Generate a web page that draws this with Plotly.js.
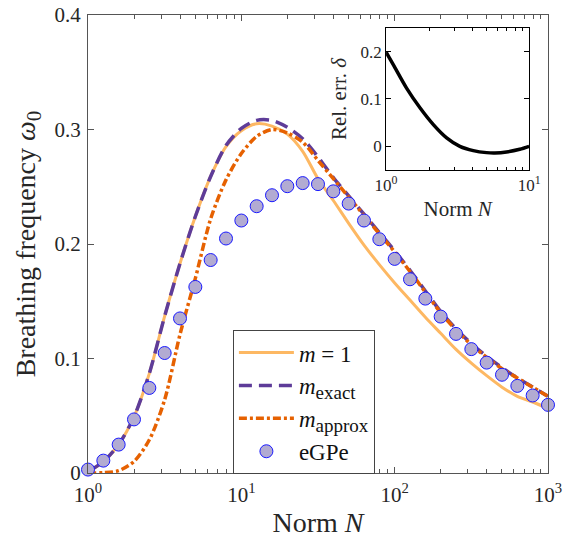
<!DOCTYPE html>
<html>
<head>
<meta charset="utf-8">
<script src="https://cdn.plot.ly/plotly-3.0.1.min.js"></script>
<style>html,body{margin:0;padding:0;background:#fff;}#chart{width:572px;height:541px;}</style>
</head>
<body>
<div id="chart"></div>
<script>
// Norm N sampling (log-spaced, as plotted)
const normN = [1, 1.259, 1.585, 1.995, 2.512, 3.162, 3.981, 5.012, 6.310, 7.943,
  10, 12.59, 15.85, 19.95, 25.12, 31.62, 39.81, 50.12, 63.10, 79.43,
  100, 125.9, 158.5, 199.5, 251.2, 316.2, 398.1, 501.2, 631.0, 794.3, 1000];

const omegaM1 = [0.001, 0.010, 0.025, 0.049, 0.087, 0.137, 0.183, 0.224, 0.259, 0.285,
  0.299, 0.305, 0.303, 0.296, 0.281, 0.257, 0.238, 0.218, 0.199, 0.182,
  0.166, 0.151, 0.136, 0.122, 0.108, 0.096, 0.085, 0.075, 0.067, 0.062, 0.0565];

const omegaExact = [0.001, 0.010, 0.025, 0.049, 0.087, 0.137, 0.183, 0.224, 0.259, 0.286,
  0.301, 0.308, 0.308, 0.302, 0.292, 0.276, 0.258, 0.242, 0.226, 0.210,
  0.194, 0.177, 0.159, 0.141, 0.126, 0.113, 0.102, 0.092, 0.083, 0.075, 0.067];

const omegaApprox = [0.0, 0.0003, 0.002, 0.010, 0.029, 0.064, 0.121, 0.170, 0.222, 0.256,
  0.279, 0.294, 0.300, 0.297, 0.289, 0.273, 0.257, 0.241, 0.225, 0.209,
  0.193, 0.176, 0.158, 0.140, 0.125, 0.112, 0.101, 0.091, 0.083, 0.075, 0.067];

const omegaEGPe = [0.003, 0.0108, 0.0248, 0.0468, 0.0743, 0.1048, 0.1350, 0.1625, 0.1860, 0.2048,
  0.2205, 0.2330, 0.2426, 0.2505, 0.2532, 0.2523, 0.2460, 0.2353, 0.2205, 0.2042,
  0.1870, 0.1692, 0.1523, 0.1366, 0.1215, 0.1082, 0.0964, 0.0858, 0.0761, 0.0677, 0.0595];

// Inset: relative error
const insetN = [1, 1.125, 1.39, 1.73, 2.14, 2.65, 3.28, 4.07, 5.04, 5.76, 6.95, 8.6, 10];
const relErr = [0.199, 0.172, 0.123, 0.081, 0.046, 0.018, 0.0, -0.009, -0.0133, -0.014, -0.012, -0.0063, 0.0];

const xTickVals = [1, 10, 100, 1000];
const xTickText = ['10<sup>0</sup>', '10<sup>1</sup>', '10<sup>2</sup>', '10<sup>3</sup>'];
const yTickVals = [0, 0.1, 0.2, 0.3, 0.4];
const yTickText = ['0', '0.1', '0.2', '0.3', '0.4'];
const insetXTickVals = [1, 10];
const insetXTickText = ['10<sup>0</sup>', '10<sup>1</sup>'];
const insetYTickVals = [0, 0.1, 0.2];
const insetYTickText = ['0', '0.1', '0.2'];

const FONT = 'Liberation Serif, DejaVu Serif, serif';
const AX = '#262626';
const FRAME = '#555555';

function minorLog(decStart, decEnd) {
  const v = [];
  for (let d = decStart; d < decEnd; d++) for (let k = 2; k <= 9; k++) v.push(k * Math.pow(10, d));
  return v;
}

const traces = [
  {x: normN, y: omegaM1, type: 'scatter', mode: 'lines', name: '<i>m</i> = 1',
   line: {color: '#fdb863', width: 3, shape: 'spline', smoothing: 0.8}, xaxis: 'x', yaxis: 'y'},
  {x: normN, y: omegaExact, type: 'scatter', mode: 'lines', name: '<i>m</i><sub><span style="font-size:19px">exact</span></sub>',
   line: {color: '#5e3c99', width: 3.5, dash: '13px,7px', shape: 'spline', smoothing: 0.8}, xaxis: 'x', yaxis: 'y'},
  {x: normN, y: omegaApprox, type: 'scatter', mode: 'lines', name: '<i>m</i><sub><span style="font-size:19px">approx</span></sub>',
   line: {color: '#e66101', width: 3.5, dash: '8px,3px,3px,3px', shape: 'spline', smoothing: 0.8}, xaxis: 'x', yaxis: 'y'},
  {x: normN, y: omegaEGPe, type: 'scatter', mode: 'markers', name: 'eGPe', cliponaxis: false,
   marker: {color: '#b2abd2', size: 13, line: {color: '#1a1aff', width: 1}}, xaxis: 'x', yaxis: 'y'},
  {x: insetN, y: relErr, type: 'scatter', mode: 'lines', showlegend: false,
   line: {color: '#000000', width: 3.5, shape: 'spline', smoothing: 0.8}, xaxis: 'x2', yaxis: 'y2'}
];

const layout = {
  width: 572, height: 541,
  margin: {l: 88, r: 24, t: 15, b: 68},
  paper_bgcolor: '#ffffff', plot_bgcolor: '#ffffff',
  font: {family: FONT, color: AX, size: 18},
  showlegend: true,
  legend: {x: 0.315, y: 0.312, xanchor: 'left', yanchor: 'top',
    bordercolor: '#444', borderwidth: 1, bgcolor: '#ffffff',
    itemwidth: 55,
    font: {family: FONT, size: 23, color: '#111'}, tracegroupgap: 0},
  xaxis: {type: 'log', range: [0, 3], domain: [0, 1],
    tickmode: 'array', tickvals: xTickVals, ticktext: xTickText,
    ticks: 'inside', ticklen: 6, tickcolor: FRAME, showline: true, linecolor: FRAME, linewidth: 1,
    mirror: 'ticks', showgrid: false, zeroline: false, ticklabelstandoff: 3,
    minor: {tickmode: 'array', tickvals: minorLog(0, 3), ticks: 'inside', ticklen: 4, tickcolor: FRAME, showgrid: false},
    tickfont: {size: 21, family: FONT, color: AX},
    title: {text: 'Norm <i>N</i>', font: {size: 28, family: FONT, color: AX}, standoff: 6}},
  yaxis: {range: [0, 0.4], domain: [0, 1],
    tickmode: 'array', tickvals: yTickVals, ticktext: yTickText,
    ticks: 'inside', ticklen: 6, tickcolor: FRAME, showline: true, linecolor: FRAME, linewidth: 1,
    mirror: 'ticks', showgrid: false, zeroline: false, ticklabelstandoff: 2,
    tickfont: {size: 21, family: FONT, color: AX},
    title: {text: 'Breathing frequency <i>ω</i><sub><span style="font-size:21px">0</span></sub>', font: {size: 28, family: FONT, color: AX}, standoff: 10}},
  xaxis2: {type: 'log', range: [0, 1], domain: [0.648, 0.959], anchor: 'y2',
    tickmode: 'array', tickvals: insetXTickVals, ticktext: insetXTickText,
    ticks: 'inside', ticklen: 5, tickcolor: '#000', showline: true, linecolor: '#000', linewidth: 1,
    mirror: 'ticks', showgrid: false, zeroline: false,
    minor: {tickmode: 'array', tickvals: minorLog(0, 1), ticks: 'inside', ticklen: 3, tickcolor: '#000', showgrid: false},
    tickfont: {size: 17, family: FONT, color: AX},
    title: {text: 'Norm <i>N</i>', font: {size: 21, family: FONT, color: AX}, standoff: 6}},
  yaxis2: {range: [-0.05, 0.25], domain: [0.6616, 0.9716], anchor: 'x2',
    tickmode: 'array', tickvals: insetYTickVals, ticktext: insetYTickText,
    ticks: 'inside', ticklen: 5, tickcolor: '#000', showline: true, linecolor: '#000', linewidth: 1,
    mirror: 'ticks', showgrid: false, zeroline: false,
    tickfont: {size: 17, family: FONT, color: AX},
    title: {text: 'Rel. err. <i>δ</i>', font: {size: 21, family: FONT, color: AX}, standoff: 8}}
};

Plotly.newPlot('chart', traces, layout, {displayModeBar: false, staticPlot: true});
</script>
</body>
</html>
